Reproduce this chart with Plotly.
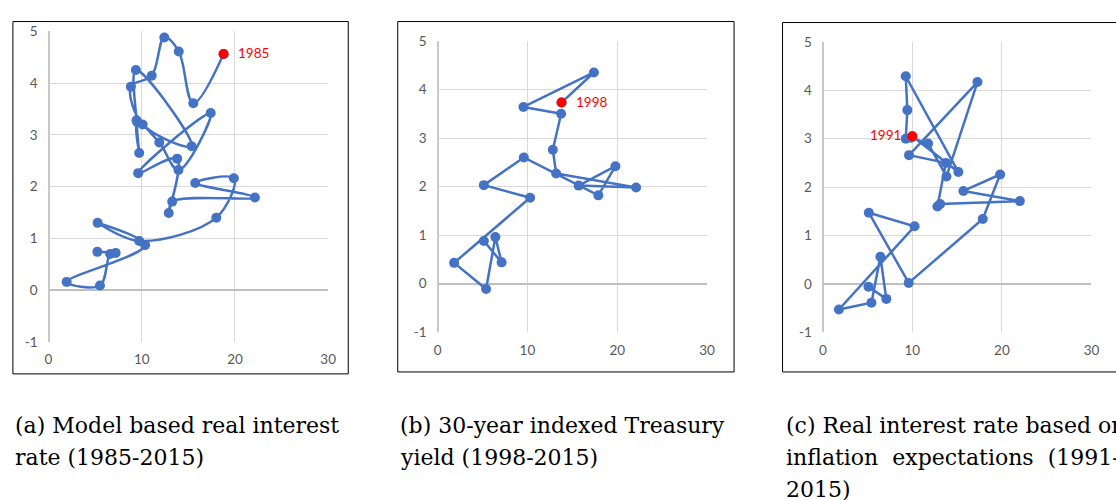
import plotly.graph_objects as go

W, H = 1116, 500

# ---- data (x, y) per year ----
years_a = list(range(1985, 2016))
x_a = [18.78, 15.53, 13.97, 12.42, 11.07, 8.84, 10.1, 15.35, 9.37, 9.44,
       9.73, 9.5, 11.89, 13.94, 17.4, 9.62, 13.8, 12.9, 13.27, 22.14,
       15.74, 19.88, 18.0, 9.73, 5.27, 10.36, 1.95, 5.52, 6.61, 7.2, 5.24]
y_a = [4.56, 3.61, 4.61, 4.88, 4.14, 3.93, 3.2, 2.78, 4.25, 3.28,
       2.65, 3.25, 2.85, 2.32, 3.42, 2.26, 2.54, 1.49, 1.71, 1.79,
       2.07, 2.16, 1.40, 0.95, 1.30, 0.87, 0.16, 0.09, 0.70, 0.72, 0.74]

years_b = list(range(1998, 2016))
x_b = [13.8, 17.4, 9.56, 13.75, 12.83, 13.2, 22.1, 15.7, 19.8, 17.9,
       9.6, 5.15, 10.3, 1.84, 5.4, 6.43, 7.13, 5.15]
y_b = [3.73, 4.35, 3.64, 3.50, 2.76, 2.27, 1.98, 2.02, 2.42, 1.82,
       2.60, 2.03, 1.77, 0.43, -0.11, 0.96, 0.44, 0.88]

years_c = list(range(1991, 2016))
x_c = [9.99, 15.14, 9.26, 9.44, 9.26, 9.85, 11.76, 13.81, 17.27, 9.63,
       13.74, 12.8, 13.1, 22.0, 15.7, 19.8, 17.86, 9.59, 5.14, 10.25,
       1.8, 5.43, 6.43, 7.09, 5.1]
y_c = [3.05, 2.31, 4.29, 3.59, 3.0, 3.02, 2.9, 2.22, 4.17, 2.66,
       2.5, 1.6, 1.65, 1.71, 1.92, 2.26, 1.34, 0.02, 1.47, 1.19,
       -0.53, -0.39, 0.56, -0.31, -0.06]

tick_x = [0, 10, 20, 30]
tick_y = [-1, 0, 1, 2, 3, 4, 5]
tick_y_text = ["-1", "0", "1", "2", "3", "4", "5"]

captions_a = ["(a) Model based real interest", "rate (1985-2015)"]
captions_b = ["(b) 30-year indexed Treasury", "yield (1998-2015)"]
captions_c = ["(c) Real interest rate based on",
              "inflation\u00a0 expectations\u00a0 (1991-", "2015)"]

BLUE = "#4472C4"
RED = "#FF0000"


def px(x):
    return x / W


def py(y):
    return 1 - y / H


# pixel layout of each panel: plot area, frame box, caption x
panels = [
    dict(xs=x_a, ys=y_a, yrs=years_a, shape="spline",
         plot=(45, 24, 327.7, 345), box=(9, 14, 348, 378),
         label_side="right", caps=captions_a, cap_x=9),
    dict(xs=x_b, ys=y_b, yrs=years_b, shape="linear",
         plot=(438.3, 34, 710.7, 335), box=(398, 14, 738, 376),
         label_side="right", caps=captions_b, cap_x=398),
    dict(xs=x_c, ys=y_c, yrs=years_c, shape="linear",
         plot=(827.7, 35, 1099.3, 335), box=(787, 15, 1127, 376),
         label_side="left", caps=captions_c, cap_x=788),
]

fig = go.Figure()
tickfont = dict(family="Lato", size=13.5, color="#595959")

for i, p in enumerate(panels):
    n = "" if i == 0 else str(i + 1)
    x0, y0, x1, y1 = p["plot"]

    fig.add_trace(go.Scatter(
        x=p["xs"], y=p["ys"], xaxis="x" + n, yaxis="y" + n,
        mode="lines+markers",
        line=dict(color=BLUE, width=2.5, shape=p["shape"], smoothing=1.0),
        marker=dict(color=BLUE, size=10),
        hoverinfo="skip", showlegend=False,
    ))
    # first year highlighted in red
    fig.add_trace(go.Scatter(
        x=p["xs"][:1], y=p["ys"][:1], xaxis="x" + n, yaxis="y" + n,
        mode="markers", marker=dict(color=RED, size=10),
        hoverinfo="skip", showlegend=False,
    ))
    right = p["label_side"] == "right"
    fig.add_annotation(
        x=p["xs"][0], y=p["ys"][0], xref="x" + n, yref="y" + n,
        text=str(p["yrs"][0]), showarrow=False,
        xanchor="left" if right else "right",
        xshift=12 if right else -9, yshift=1,
        font=dict(family="Lato", size=13.5, color=RED),
    )

    fig.layout["xaxis" + n] = dict(
        domain=[px(x0), px(x1)], anchor="y" + n, range=[0, 30],
        tickvals=tick_x, showgrid=True, gridcolor="#d9d9d9", gridwidth=1,
        zeroline=True, zerolinecolor="#c8c8c8", zerolinewidth=1.5,
        showline=False, ticks="", tickfont=tickfont,
        ticklabelstandoff=8, fixedrange=True,
    )
    fig.layout["yaxis" + n] = dict(
        domain=[py(y1), py(y0)], anchor="x" + n, range=[-1, 5],
        tickvals=tick_y, ticktext=tick_y_text,
        showgrid=True, gridcolor="#d9d9d9", gridwidth=1,
        zeroline=True, zerolinecolor="#bfbfbf", zerolinewidth=1.5,
        showline=False, ticks="", tickfont=tickfont,
        ticklabelstandoff=10, fixedrange=True,
    )

    bx0, by0, bx1, by1 = p["box"]
    fig.add_shape(type="rect", xref="paper", yref="paper",
                  x0=px(bx0), x1=px(bx1), y0=py(by1), y1=py(by0),
                  line=dict(color="black", width=1), layer="above")

    for k, line in enumerate(p["caps"]):
        fig.add_annotation(
            x=px(p["cap_x"]), y=py(431 + 33 * k), xref="paper", yref="paper",
            text=line, showarrow=False, xanchor="left", yanchor="middle",
            font=dict(family="DejaVu Serif", size=22, color="black"),
        )

fig.update_layout(
    width=W, height=H,
    margin=dict(l=0, r=0, t=0, b=0),
    paper_bgcolor="white", plot_bgcolor="white",
)

# page body margin would push the fixed-size figure off its spot
fig.write_html("out.html", config={"displayModeBar": False},
               post_script="document.body.style.margin='0';"
                           "document.body.style.overflow='hidden';")
